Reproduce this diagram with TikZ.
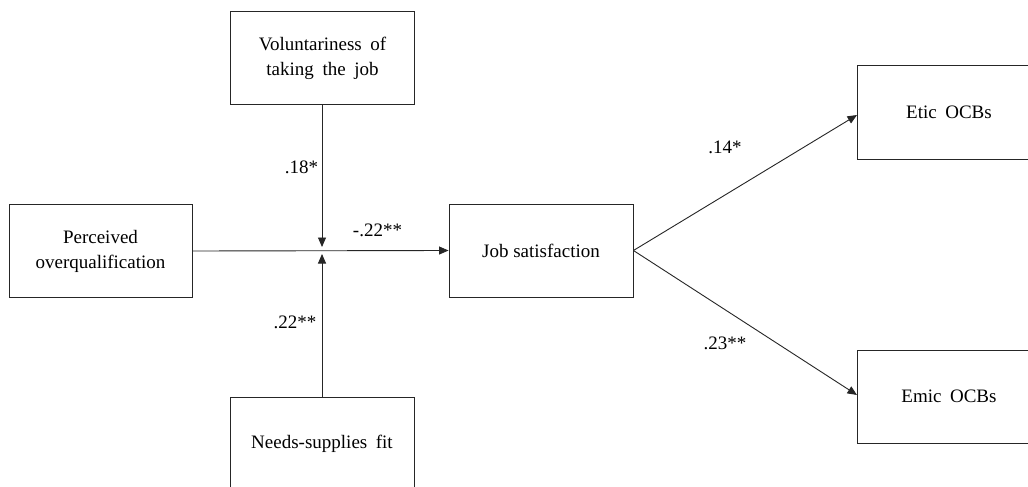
\documentclass[tikz,border=0pt]{standalone}
\usepackage{fontspec}
\setmainfont{Liberation Serif}
\usetikzlibrary{arrows.meta}
\newcommand{\wsp}{\hspace{0.45em}}
\begin{document}
\begin{tikzpicture}[x=1pt,y=-1pt,
  box/.style={draw=black!85,line width=0.9pt,minimum width=184pt,minimum height=93pt,
    align=center,inner sep=0pt,font=\fontsize{19}{25}\selectfont},
  lbl/.style={inner sep=0pt,font=\fontsize{19}{23}\selectfont},
  arr/.style={draw=black!85,line width=0.9pt,-{Triangle[length=9.5pt,width=8pt]}}]
\useasboundingbox (0,0) rectangle (1028,487);
\clip (0,0) rectangle (1028,487);
\fill[white] (0,0) rectangle (1028,487);
\node[box] (vol) at (322.5,58) {Voluntariness\wsp of\\taking\wsp the\wsp job};
\node[box,minimum width=183pt] (poq) at (100.5,251) {Perceived\\overqualification};
\node[box,minimum height=94pt] (nsf) at (322,444) {Needs-supplies\wsp fit};
\node[box] (job) at (541,250.5) {Job satisfaction};
\node[box,minimum height=94pt] (etic) at (949,112) {Etic\wsp OCBs};
\node[box] (emic) at (949,396.5) {Emic\wsp OCBs};
\coordinate (jt) at (322,247);
\coordinate (jb) at (322,254);
\draw[arr] (vol.south -| jt) -- (jt);
\draw[arr] (nsf.north -| jb) -- (jb);
\draw[arr] (poq.east) -- (job.west);
\coordinate (ea) at (857,115);
\coordinate (ma) at (857,395);
\draw[arr] (job.east) -- (ea);
\draw[arr] (job.east) -- (ma);
\node[lbl] (l1) at (301.5,167) {.18*};
\node[lbl] (l2) at (295,322) {.22**};
\node[lbl] (l3) at (377.5,230) {-.22**};
\node[lbl] (l4) at (725,147) {.14*};
\node[lbl] (l5) at (725,343) {.23**};
\end{tikzpicture}
\end{document}
